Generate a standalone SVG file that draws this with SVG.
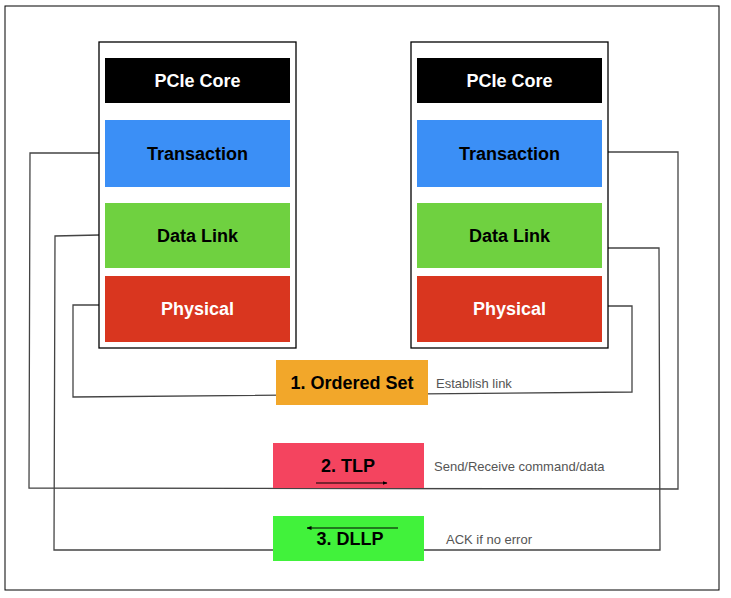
<svg xmlns="http://www.w3.org/2000/svg" width="731" height="598" viewBox="0 0 731 598">
<defs>
<style>
.t{font-family:"Liberation Sans",Arial,sans-serif;font-weight:bold;font-size:18px;text-anchor:middle;dominant-baseline:central}
.n{font-family:"Liberation Sans",Arial,sans-serif;font-size:13px;fill:#555;dominant-baseline:central}
.c{fill:none;stroke:#444;stroke-width:1.3}
.box{fill:#fff;stroke:#000;stroke-width:1.3}
</style>
<marker id="a" viewBox="0 0 10 10" refX="9" refY="5" markerWidth="5" markerHeight="5" orient="auto"><path d="M0,1 L10,5 L0,9z" fill="#000"/></marker>
</defs>
<rect x="0" y="0" width="731" height="598" fill="#fff"/>
<rect x="5" y="6" width="714" height="584" fill="none" stroke="#000" stroke-width="1"/>
<g id="connectors">
<path class="c" d="M99,305 H73 V397 L632,392 V306 H608"/>
<path class="c" d="M99,153 H30 L29,488 L678,489 V152 H608"/>
<path class="c" d="M99,235 L55,236 L54,550 H660 L659,248 L608,248"/>
</g>
<g id="left-device">
<rect class="box" x="99" y="42" width="197" height="306"/>
<rect x="105" y="58" width="185" height="45" fill="#000"/><text class="t" x="197.5" y="81" fill="#fff">PCIe Core</text>
<rect x="105" y="120" width="185" height="67" fill="#3b8ff6"/><text class="t" x="197.5" y="154" fill="#000">Transaction</text>
<rect x="105" y="203" width="185" height="65" fill="#6fd140"/><text class="t" x="197.5" y="236" fill="#000">Data Link</text>
<rect x="105" y="276" width="185" height="66" fill="#d9361f"/><text class="t" x="197.5" y="309" fill="#fff">Physical</text>
</g>
<g id="right-device">
<rect class="box" x="411" y="42" width="197" height="306"/>
<rect x="417" y="58" width="185" height="45" fill="#000"/><text class="t" x="509.5" y="81" fill="#fff">PCIe Core</text>
<rect x="417" y="120" width="185" height="67" fill="#3b8ff6"/><text class="t" x="509.5" y="154" fill="#000">Transaction</text>
<rect x="417" y="203" width="185" height="65" fill="#6fd140"/><text class="t" x="509.5" y="236" fill="#000">Data Link</text>
<rect x="417" y="276" width="185" height="66" fill="#d9361f"/><text class="t" x="509.5" y="309" fill="#fff">Physical</text>
</g>
<g id="ordered-set">
<rect x="276" y="360" width="152" height="45" fill="#f2a72a"/>
<text class="t" x="352" y="383" fill="#000">1. Ordered Set</text>
<text class="n" x="436" y="383">Establish link</text>
</g>
<g id="tlp">
<rect x="273" y="443" width="151" height="45" fill="#f4445f"/>
<text class="t" x="348" y="466" fill="#000">2. TLP</text>
<line x1="316" y1="483" x2="387" y2="483" stroke="#000" stroke-width="1" marker-end="url(#a)"/>
<text class="n" x="434" y="466">Send/Receive command/data</text>
</g>
<g id="dllp">
<rect x="273" y="516" width="151" height="45" fill="#41f23b"/>
<text class="t" x="350" y="539" fill="#000">3. DLLP</text>
<line x1="398" y1="528" x2="307" y2="528" stroke="#000" stroke-width="1" marker-end="url(#a)"/>
<text class="n" x="446" y="539">ACK if no error</text>
</g>
</svg>
